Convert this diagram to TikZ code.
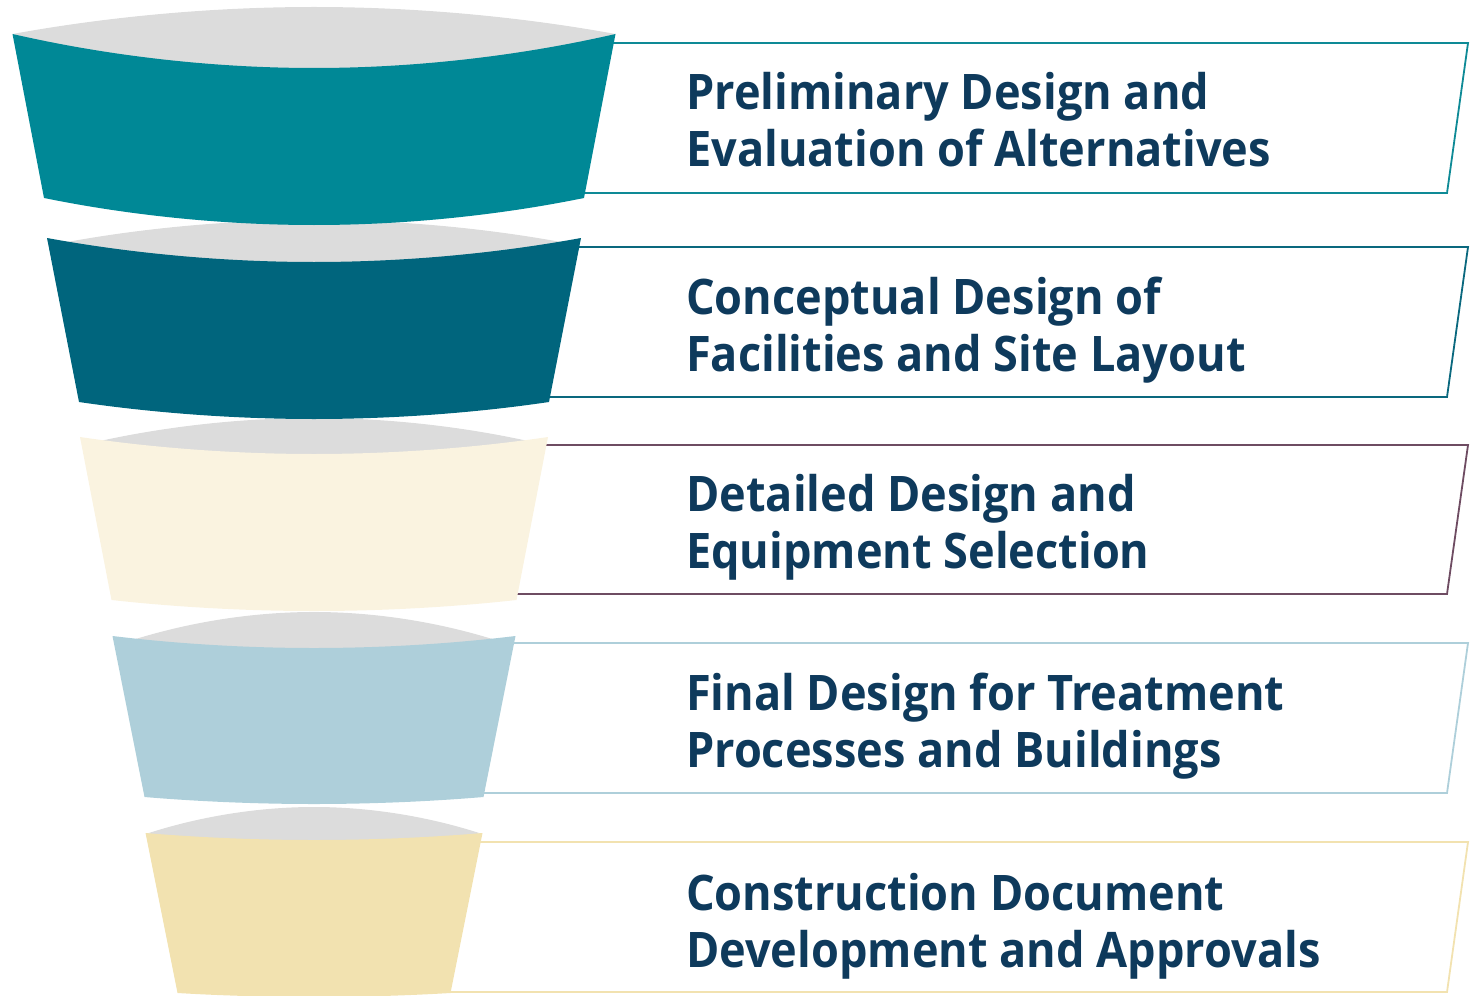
\documentclass[tikz,border=0pt]{standalone}
\usepackage{fontspec}
\newfontfamily\labelfont{Open Sans}[FakeStretch=0.92]
\definecolor{lensgray}{HTML}{DCDCDC}
\definecolor{navy}{HTML}{0E3A5C}
\definecolor{cA}{HTML}{008896}
\definecolor{cB}{HTML}{00657D}
\definecolor{cC}{HTML}{FAF3E0}
\definecolor{cD}{HTML}{AECFDA}
\definecolor{cE}{HTML}{F2E2B0}
\definecolor{lA}{HTML}{0E8A96}
\definecolor{lB}{HTML}{0A687E}
\definecolor{lC}{HTML}{6E4C62}
\definecolor{lD}{HTML}{AECFDA}
\definecolor{lE}{HTML}{F2E2B0}
\tikzset{
  lens/.style={fill=lensgray},
  boxline/.style={line width=1.8pt, line join=miter},
  steplabel/.style={anchor=base west, text=navy, inner sep=0pt,
    font=\labelfont\bfseries\fontsize{49}{57}\selectfont},
}
% #1 half top width, #2 top y, #3 lens top, #4 top sag, #5 half bottom width,
% #6 bottom y, #7 bottom sag, #8 colour, #9 lens inset
\newcommand\funnellevel[9]{%
  \pgfmathsetmacro\lx{314-#1+#9}\pgfmathsetmacro\rx{314+#1-#9}%
  \pgfmathsetmacro\ly{#2+#9/5}%
  \fill[lens] (\lx,\ly) parabola bend (314,#3) (\rx,\ly)
     parabola bend (314,#4+3) (\lx,\ly) -- cycle;
  \fill[#8] (314-#1,#2) parabola bend (314,#4) (314+#1,#2)
     -- (314+#5,#6) parabola bend (314,#7) (314-#5,#6) -- cycle;
}
\newcommand\stepbox[4]{% #1 left x, #2 top y, #3 bottom y, #4 colour
  \draw[boxline,#4] (#1,#3) -- (1447,#3) -- (1468,#2) -- (#1,#2);
}
\begin{document}
\begin{tikzpicture}[x=1pt,y=-1pt]
\useasboundingbox (0,0) rectangle (1471,995);
% boxes
\stepbox{540}{43}{193}{lA}
\stepbox{500}{247}{397}{lB}
\stepbox{470}{445}{594}{lC}
\stepbox{440}{643}{793}{lD}
\stepbox{410}{842}{992}{lE}
% funnel, bottom level first
\funnellevel{168.5}{833}{807}{840}{136.5}{993}{997}{cE}{2}
\funnellevel{201.5}{636}{612}{648}{169.5}{797}{804}{cD}{20}
\funnellevel{234}{437}{418}{454}{202.5}{600}{611}{cC}{20}
\funnellevel{267}{238}{220}{262}{235}{402}{419}{cB}{20}
\funnellevel{301.5}{34}{7}{68}{270}{198}{225}{cA}{0}
% labels
\node[steplabel] (t1a) at (686,110) {Preliminary Design and};
\node[steplabel] (t1b) at (686,167) {Evaluation of Alternatives};
\node[steplabel] (t2a) at (686,314) {Conceptual Design of};
\node[steplabel] (t2b) at (686,371) {Facilities and Site Layout};
\node[steplabel] (t3a) at (686,511) {Detailed Design and};
\node[steplabel] (t3b) at (686,568) {Equipment Selection};
\node[steplabel] (t4a) at (686,710) {Final Design for Treatment};
\node[steplabel] (t4b) at (686,767) {Processes and Buildings};
\node[steplabel] (t5a) at (686,910) {Construction Document};
\node[steplabel] (t5b) at (686,967) {Development and Approvals};
\end{tikzpicture}
\end{document}
